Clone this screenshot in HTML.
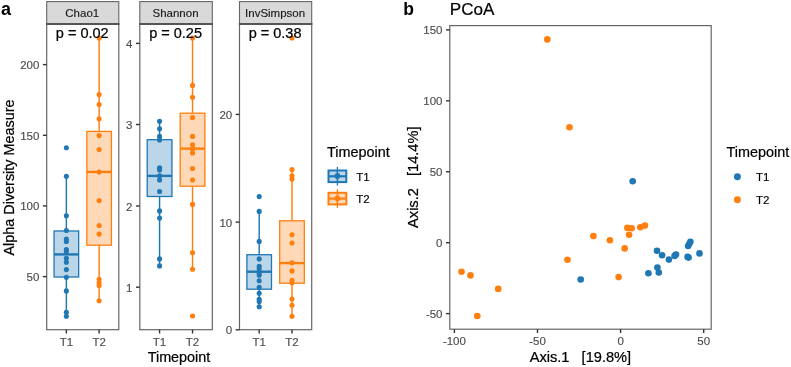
<!DOCTYPE html>
<html><head><meta charset="utf-8"><title>Alpha diversity and PCoA</title>
<style>
html,body{margin:0;padding:0;background:#fff;}
body{width:791px;height:367px;overflow:hidden;}
svg{display:block;font-family:"Liberation Sans", sans-serif;filter:blur(0.3px);}
</style></head>
<body>
<svg width="791" height="367" viewBox="0 0 791 367">
<rect width="791" height="367" fill="#fff"/>
<rect x="46.7" y="1.6" width="72.10" height="22.40" fill="#D9D9D9" stroke="#666666" stroke-width="1.1"/>
<text x="82.25" y="17.2" font-size="11.5" fill="#1A1A1A" stroke="#1A1A1A" stroke-width="0.15" text-anchor="middle">Chao1</text>
<rect x="46.7" y="24.0" width="72.10" height="305.70" fill="#FFFFFF" stroke="#666666" stroke-width="1.2"/>
<line x1="46.10" y1="24.00" x2="119.40" y2="24.00" stroke="#555" stroke-width="2"/>
<line x1="42.90" y1="64.6" x2="46.7" y2="64.6" stroke="#333" stroke-width="1.4"/>
<text x="39.40" y="69.10" font-size="11.5" fill="#4D4D4D" stroke="#4D4D4D" stroke-width="0.15" text-anchor="end">200</text>
<line x1="42.90" y1="135.3" x2="46.7" y2="135.3" stroke="#333" stroke-width="1.4"/>
<text x="39.40" y="139.80" font-size="11.5" fill="#4D4D4D" stroke="#4D4D4D" stroke-width="0.15" text-anchor="end">150</text>
<line x1="42.90" y1="205.9" x2="46.7" y2="205.9" stroke="#333" stroke-width="1.4"/>
<text x="39.40" y="210.40" font-size="11.5" fill="#4D4D4D" stroke="#4D4D4D" stroke-width="0.15" text-anchor="end">100</text>
<line x1="42.90" y1="276.6" x2="46.7" y2="276.6" stroke="#333" stroke-width="1.4"/>
<text x="39.40" y="281.10" font-size="11.5" fill="#4D4D4D" stroke="#4D4D4D" stroke-width="0.15" text-anchor="end">50</text>
<line x1="66.36" y1="329.7" x2="66.36" y2="333.5" stroke="#333" stroke-width="1.4"/>
<text x="66.36" y="345.6" font-size="11.5" fill="#4D4D4D" stroke="#4D4D4D" stroke-width="0.15" text-anchor="middle">T1</text>
<line x1="99.14" y1="329.7" x2="99.14" y2="333.5" stroke="#333" stroke-width="1.4"/>
<text x="99.14" y="345.6" font-size="11.5" fill="#4D4D4D" stroke="#4D4D4D" stroke-width="0.15" text-anchor="middle">T2</text>
<line x1="66.36" y1="176.3" x2="66.36" y2="231.0" stroke="#1F77B4" stroke-width="1.45"/>
<line x1="66.36" y1="277.0" x2="66.36" y2="316.3" stroke="#1F77B4" stroke-width="1.45"/>
<rect x="54.07" y="231.0" width="24.58" height="46.00" fill="#BCD6E9" stroke="#1F77B4" stroke-width="1.3"/>
<line x1="54.07" y1="254.4" x2="78.65" y2="254.4" stroke="#1F77B4" stroke-width="2.4"/>
<line x1="99.14" y1="38.0" x2="99.14" y2="131.4" stroke="#FF7F0E" stroke-width="1.45"/>
<line x1="99.14" y1="245.2" x2="99.14" y2="300.7" stroke="#FF7F0E" stroke-width="1.45"/>
<rect x="86.85" y="131.4" width="24.58" height="113.80" fill="#FFD9B7" stroke="#FF7F0E" stroke-width="1.3"/>
<line x1="86.85" y1="171.9" x2="111.43" y2="171.9" stroke="#FF7F0E" stroke-width="2.4"/>
<circle cx="66.36" cy="147.8" r="2.55" fill="#1F77B4"/>
<circle cx="66.36" cy="176.3" r="2.55" fill="#1F77B4"/>
<circle cx="66.36" cy="215.7" r="2.55" fill="#1F77B4"/>
<circle cx="66.36" cy="230.5" r="2.55" fill="#1F77B4"/>
<circle cx="66.36" cy="239" r="2.55" fill="#1F77B4"/>
<circle cx="66.36" cy="241.5" r="2.55" fill="#1F77B4"/>
<circle cx="66.36" cy="249.6" r="2.55" fill="#1F77B4"/>
<circle cx="66.36" cy="251.6" r="2.55" fill="#1F77B4"/>
<circle cx="66.36" cy="258.2" r="2.55" fill="#1F77B4"/>
<circle cx="66.36" cy="262.3" r="2.55" fill="#1F77B4"/>
<circle cx="66.36" cy="269.6" r="2.55" fill="#1F77B4"/>
<circle cx="66.36" cy="277.2" r="2.55" fill="#1F77B4"/>
<circle cx="66.36" cy="290.9" r="2.55" fill="#1F77B4"/>
<circle cx="66.36" cy="312.2" r="2.55" fill="#1F77B4"/>
<circle cx="66.36" cy="316.3" r="2.55" fill="#1F77B4"/>
<circle cx="99.14" cy="38.0" r="2.55" fill="#FF7F0E"/>
<circle cx="99.14" cy="94.6" r="2.55" fill="#FF7F0E"/>
<circle cx="99.14" cy="104.5" r="2.55" fill="#FF7F0E"/>
<circle cx="99.14" cy="118.8" r="2.55" fill="#FF7F0E"/>
<circle cx="99.14" cy="135.6" r="2.55" fill="#FF7F0E"/>
<circle cx="99.14" cy="149.6" r="2.55" fill="#FF7F0E"/>
<circle cx="99.14" cy="172.0" r="2.55" fill="#FF7F0E"/>
<circle cx="99.14" cy="200.6" r="2.55" fill="#FF7F0E"/>
<circle cx="99.14" cy="225.5" r="2.55" fill="#FF7F0E"/>
<circle cx="99.14" cy="234.1" r="2.55" fill="#FF7F0E"/>
<circle cx="99.14" cy="279.3" r="2.55" fill="#FF7F0E"/>
<circle cx="99.14" cy="282.7" r="2.55" fill="#FF7F0E"/>
<circle cx="99.14" cy="285.5" r="2.55" fill="#FF7F0E"/>
<circle cx="99.14" cy="300.7" r="2.55" fill="#FF7F0E"/>
<text x="82.25" y="37.6" font-size="14.5" fill="#000" stroke="#000" stroke-width="0.22" text-anchor="middle">p = 0.02</text>
<rect x="139.8" y="1.6" width="72.50" height="22.40" fill="#D9D9D9" stroke="#666666" stroke-width="1.1"/>
<text x="175.55" y="17.2" font-size="11.5" fill="#1A1A1A" stroke="#1A1A1A" stroke-width="0.15" text-anchor="middle">Shannon</text>
<rect x="139.8" y="24.0" width="72.50" height="305.70" fill="#FFFFFF" stroke="#666666" stroke-width="1.2"/>
<line x1="139.20" y1="24.00" x2="212.90" y2="24.00" stroke="#555" stroke-width="2"/>
<line x1="136.00" y1="43.4" x2="139.8" y2="43.4" stroke="#333" stroke-width="1.4"/>
<text x="132.50" y="47.90" font-size="11.5" fill="#4D4D4D" stroke="#4D4D4D" stroke-width="0.15" text-anchor="end">4</text>
<line x1="136.00" y1="124.5" x2="139.8" y2="124.5" stroke="#333" stroke-width="1.4"/>
<text x="132.50" y="129.00" font-size="11.5" fill="#4D4D4D" stroke="#4D4D4D" stroke-width="0.15" text-anchor="end">3</text>
<line x1="136.00" y1="206.0" x2="139.8" y2="206.0" stroke="#333" stroke-width="1.4"/>
<text x="132.50" y="210.50" font-size="11.5" fill="#4D4D4D" stroke="#4D4D4D" stroke-width="0.15" text-anchor="end">2</text>
<line x1="136.00" y1="287.2" x2="139.8" y2="287.2" stroke="#333" stroke-width="1.4"/>
<text x="132.50" y="291.70" font-size="11.5" fill="#4D4D4D" stroke="#4D4D4D" stroke-width="0.15" text-anchor="end">1</text>
<line x1="159.57" y1="329.7" x2="159.57" y2="333.5" stroke="#333" stroke-width="1.4"/>
<text x="159.57" y="345.6" font-size="11.5" fill="#4D4D4D" stroke="#4D4D4D" stroke-width="0.15" text-anchor="middle">T1</text>
<line x1="192.53" y1="329.7" x2="192.53" y2="333.5" stroke="#333" stroke-width="1.4"/>
<text x="192.53" y="345.6" font-size="11.5" fill="#4D4D4D" stroke="#4D4D4D" stroke-width="0.15" text-anchor="middle">T2</text>
<line x1="159.57" y1="121.2" x2="159.57" y2="139.7" stroke="#1F77B4" stroke-width="1.45"/>
<line x1="159.57" y1="196.5" x2="159.57" y2="265.9" stroke="#1F77B4" stroke-width="1.45"/>
<rect x="147.21" y="139.7" width="24.72" height="56.80" fill="#BCD6E9" stroke="#1F77B4" stroke-width="1.3"/>
<line x1="147.21" y1="175.9" x2="171.93" y2="175.9" stroke="#1F77B4" stroke-width="2.4"/>
<line x1="192.53" y1="38.0" x2="192.53" y2="113.2" stroke="#FF7F0E" stroke-width="1.45"/>
<line x1="192.53" y1="186.2" x2="192.53" y2="269.2" stroke="#FF7F0E" stroke-width="1.45"/>
<rect x="180.17" y="113.2" width="24.72" height="73.00" fill="#FFD9B7" stroke="#FF7F0E" stroke-width="1.3"/>
<line x1="180.17" y1="148.6" x2="204.89" y2="148.6" stroke="#FF7F0E" stroke-width="2.4"/>
<circle cx="159.57" cy="121.2" r="2.55" fill="#1F77B4"/>
<circle cx="159.57" cy="128.7" r="2.55" fill="#1F77B4"/>
<circle cx="159.57" cy="136.4" r="2.55" fill="#1F77B4"/>
<circle cx="159.57" cy="139.9" r="2.55" fill="#1F77B4"/>
<circle cx="159.57" cy="167.7" r="2.55" fill="#1F77B4"/>
<circle cx="159.57" cy="170.1" r="2.55" fill="#1F77B4"/>
<circle cx="159.57" cy="175.9" r="2.55" fill="#1F77B4"/>
<circle cx="159.57" cy="180.0" r="2.55" fill="#1F77B4"/>
<circle cx="159.57" cy="191.5" r="2.55" fill="#1F77B4"/>
<circle cx="159.57" cy="210.9" r="2.55" fill="#1F77B4"/>
<circle cx="159.57" cy="218.1" r="2.55" fill="#1F77B4"/>
<circle cx="159.57" cy="258.9" r="2.55" fill="#1F77B4"/>
<circle cx="159.57" cy="265.9" r="2.55" fill="#1F77B4"/>
<circle cx="192.53" cy="38.0" r="2.55" fill="#FF7F0E"/>
<circle cx="192.53" cy="85.4" r="2.55" fill="#FF7F0E"/>
<circle cx="192.53" cy="97.2" r="2.55" fill="#FF7F0E"/>
<circle cx="192.53" cy="117.6" r="2.55" fill="#FF7F0E"/>
<circle cx="192.53" cy="136.4" r="2.55" fill="#FF7F0E"/>
<circle cx="192.53" cy="144.8" r="2.55" fill="#FF7F0E"/>
<circle cx="192.53" cy="148.9" r="2.55" fill="#FF7F0E"/>
<circle cx="192.53" cy="153.0" r="2.55" fill="#FF7F0E"/>
<circle cx="192.53" cy="168.5" r="2.55" fill="#FF7F0E"/>
<circle cx="192.53" cy="180.0" r="2.55" fill="#FF7F0E"/>
<circle cx="192.53" cy="204.4" r="2.55" fill="#FF7F0E"/>
<circle cx="192.53" cy="252.8" r="2.55" fill="#FF7F0E"/>
<circle cx="192.53" cy="269.2" r="2.55" fill="#FF7F0E"/>
<circle cx="192.53" cy="316.0" r="2.55" fill="#FF7F0E"/>
<text x="175.55" y="37.6" font-size="14.5" fill="#000" stroke="#000" stroke-width="0.22" text-anchor="middle">p = 0.25</text>
<rect x="239.5" y="1.6" width="72.20" height="22.40" fill="#D9D9D9" stroke="#666666" stroke-width="1.1"/>
<text x="275.10" y="17.2" font-size="11.5" fill="#1A1A1A" stroke="#1A1A1A" stroke-width="0.15" text-anchor="middle">InvSimpson</text>
<rect x="239.5" y="24.0" width="72.20" height="305.70" fill="#FFFFFF" stroke="#666666" stroke-width="1.2"/>
<line x1="238.90" y1="24.00" x2="312.30" y2="24.00" stroke="#555" stroke-width="2"/>
<line x1="235.70" y1="114.4" x2="239.5" y2="114.4" stroke="#333" stroke-width="1.4"/>
<text x="232.20" y="118.90" font-size="11.5" fill="#4D4D4D" stroke="#4D4D4D" stroke-width="0.15" text-anchor="end">20</text>
<line x1="235.70" y1="222.1" x2="239.5" y2="222.1" stroke="#333" stroke-width="1.4"/>
<text x="232.20" y="226.60" font-size="11.5" fill="#4D4D4D" stroke="#4D4D4D" stroke-width="0.15" text-anchor="end">10</text>
<line x1="235.70" y1="329.8" x2="239.5" y2="329.8" stroke="#333" stroke-width="1.4"/>
<text x="232.20" y="334.30" font-size="11.5" fill="#4D4D4D" stroke="#4D4D4D" stroke-width="0.15" text-anchor="end">0</text>
<line x1="259.19" y1="329.7" x2="259.19" y2="333.5" stroke="#333" stroke-width="1.4"/>
<text x="259.19" y="345.6" font-size="11.5" fill="#4D4D4D" stroke="#4D4D4D" stroke-width="0.15" text-anchor="middle">T1</text>
<line x1="292.01" y1="329.7" x2="292.01" y2="333.5" stroke="#333" stroke-width="1.4"/>
<text x="292.01" y="345.6" font-size="11.5" fill="#4D4D4D" stroke="#4D4D4D" stroke-width="0.15" text-anchor="middle">T2</text>
<line x1="259.19" y1="211.4" x2="259.19" y2="254.7" stroke="#1F77B4" stroke-width="1.45"/>
<line x1="259.19" y1="289.2" x2="259.19" y2="306.9" stroke="#1F77B4" stroke-width="1.45"/>
<rect x="246.88" y="254.7" width="24.61" height="34.50" fill="#BCD6E9" stroke="#1F77B4" stroke-width="1.3"/>
<line x1="246.88" y1="271.7" x2="271.50" y2="271.7" stroke="#1F77B4" stroke-width="2.4"/>
<line x1="292.01" y1="169.6" x2="292.01" y2="220.8" stroke="#FF7F0E" stroke-width="1.45"/>
<line x1="292.01" y1="283.2" x2="292.01" y2="316.3" stroke="#FF7F0E" stroke-width="1.45"/>
<rect x="279.70" y="220.8" width="24.61" height="62.40" fill="#FFD9B7" stroke="#FF7F0E" stroke-width="1.3"/>
<line x1="279.70" y1="263.1" x2="304.32" y2="263.1" stroke="#FF7F0E" stroke-width="2.4"/>
<circle cx="259.19" cy="196.6" r="2.55" fill="#1F77B4"/>
<circle cx="259.19" cy="211.4" r="2.55" fill="#1F77B4"/>
<circle cx="259.19" cy="241.4" r="2.55" fill="#1F77B4"/>
<circle cx="259.19" cy="258.9" r="2.55" fill="#1F77B4"/>
<circle cx="259.19" cy="266.3" r="2.55" fill="#1F77B4"/>
<circle cx="259.19" cy="268.8" r="2.55" fill="#1F77B4"/>
<circle cx="259.19" cy="272.9" r="2.55" fill="#1F77B4"/>
<circle cx="259.19" cy="275.3" r="2.55" fill="#1F77B4"/>
<circle cx="259.19" cy="280.7" r="2.55" fill="#1F77B4"/>
<circle cx="259.19" cy="287.3" r="2.55" fill="#1F77B4"/>
<circle cx="259.19" cy="293.3" r="2.55" fill="#1F77B4"/>
<circle cx="259.19" cy="299.3" r="2.55" fill="#1F77B4"/>
<circle cx="259.19" cy="301.5" r="2.55" fill="#1F77B4"/>
<circle cx="259.19" cy="306.7" r="2.55" fill="#1F77B4"/>
<circle cx="292.01" cy="38.0" r="2.55" fill="#FF7F0E"/>
<circle cx="292.01" cy="169.6" r="2.55" fill="#FF7F0E"/>
<circle cx="292.01" cy="175.8" r="2.55" fill="#FF7F0E"/>
<circle cx="292.01" cy="179.1" r="2.55" fill="#FF7F0E"/>
<circle cx="292.01" cy="234.7" r="2.55" fill="#FF7F0E"/>
<circle cx="292.01" cy="243.0" r="2.55" fill="#FF7F0E"/>
<circle cx="292.01" cy="262.8" r="2.55" fill="#FF7F0E"/>
<circle cx="292.01" cy="270.9" r="2.55" fill="#FF7F0E"/>
<circle cx="292.01" cy="280.2" r="2.55" fill="#FF7F0E"/>
<circle cx="292.01" cy="282.7" r="2.55" fill="#FF7F0E"/>
<circle cx="292.01" cy="299.0" r="2.55" fill="#FF7F0E"/>
<circle cx="292.01" cy="305.2" r="2.55" fill="#FF7F0E"/>
<circle cx="292.01" cy="316.3" r="2.55" fill="#FF7F0E"/>
<text x="275.10" y="37.6" font-size="14.5" fill="#000" stroke="#000" stroke-width="0.22" text-anchor="middle">p = 0.38</text>
<text x="1" y="15.2" font-size="18" font-weight="bold" fill="#000">a</text>
<text transform="translate(14.3,177.5) rotate(-90)" font-size="14.4" fill="#000" stroke="#000" stroke-width="0.22" text-anchor="middle">Alpha Diversity Measure</text>
<text x="179" y="362.1" font-size="14.4" fill="#000" stroke="#000" stroke-width="0.22" text-anchor="middle">Timepoint</text>
<text x="327.1" y="156.8" font-size="14.4" fill="#000" stroke="#000" stroke-width="0.22">Timepoint</text>
<line x1="337.4" y1="167.00" x2="337.4" y2="185.60" stroke="#1F77B4" stroke-width="1.3"/>
<rect x="328.50" y="170.50" width="17.8" height="11.6" fill="#BCD6E9" stroke="#1F77B4" stroke-width="2"/>
<line x1="328.50" y1="176.30" x2="346.30" y2="176.30" stroke="#1F77B4" stroke-width="2.2"/>
<line x1="337.4" y1="170.50" x2="337.4" y2="182.10" stroke="#1F77B4" stroke-width="1.6"/>
<circle cx="337.4" cy="176.00" r="2.9" fill="#1F77B4"/>
<text x="356.2" y="180.50" font-size="11.5" fill="#000" stroke="#000" stroke-width="0.15">T1</text>
<line x1="337.4" y1="189.30" x2="337.4" y2="207.90" stroke="#FF7F0E" stroke-width="1.3"/>
<rect x="328.50" y="192.80" width="17.8" height="11.6" fill="#FFD9B7" stroke="#FF7F0E" stroke-width="2"/>
<line x1="328.50" y1="198.60" x2="346.30" y2="198.60" stroke="#FF7F0E" stroke-width="2.2"/>
<line x1="337.4" y1="192.80" x2="337.4" y2="204.40" stroke="#FF7F0E" stroke-width="1.6"/>
<circle cx="337.4" cy="198.30" r="2.9" fill="#FF7F0E"/>
<text x="356.2" y="202.80" font-size="11.5" fill="#000" stroke="#000" stroke-width="0.15">T2</text>
<text x="403.2" y="15.1" font-size="17.5" font-weight="bold" fill="#000">b</text>
<text x="449.8" y="14.5" font-size="17.1" fill="#000" stroke="#000" stroke-width="0.22">PCoA</text>
<rect x="449.8" y="25.6" width="261.40" height="303.60" fill="#FFF" stroke="#666666" stroke-width="1.2"/>
<line x1="446.00" y1="29.92" x2="449.8" y2="29.92" stroke="#333" stroke-width="1.4"/>
<text x="442.50" y="34.42" font-size="11.5" fill="#4D4D4D" stroke="#4D4D4D" stroke-width="0.15" text-anchor="end">150</text>
<line x1="446.00" y1="100.85" x2="449.8" y2="100.85" stroke="#333" stroke-width="1.4"/>
<text x="442.50" y="105.35" font-size="11.5" fill="#4D4D4D" stroke="#4D4D4D" stroke-width="0.15" text-anchor="end">100</text>
<line x1="446.00" y1="171.77" x2="449.8" y2="171.77" stroke="#333" stroke-width="1.4"/>
<text x="442.50" y="176.27" font-size="11.5" fill="#4D4D4D" stroke="#4D4D4D" stroke-width="0.15" text-anchor="end">50</text>
<line x1="446.00" y1="242.70" x2="449.8" y2="242.70" stroke="#333" stroke-width="1.4"/>
<text x="442.50" y="247.20" font-size="11.5" fill="#4D4D4D" stroke="#4D4D4D" stroke-width="0.15" text-anchor="end">0</text>
<line x1="446.00" y1="313.62" x2="449.8" y2="313.62" stroke="#333" stroke-width="1.4"/>
<text x="442.50" y="318.12" font-size="11.5" fill="#4D4D4D" stroke="#4D4D4D" stroke-width="0.15" text-anchor="end">-50</text>
<line x1="454.40" y1="329.2" x2="454.40" y2="333.0" stroke="#333" stroke-width="1.4"/>
<text x="454.40" y="345.4" font-size="11.5" fill="#4D4D4D" stroke="#4D4D4D" stroke-width="0.15" text-anchor="middle">-100</text>
<line x1="537.50" y1="329.2" x2="537.50" y2="333.0" stroke="#333" stroke-width="1.4"/>
<text x="537.50" y="345.4" font-size="11.5" fill="#4D4D4D" stroke="#4D4D4D" stroke-width="0.15" text-anchor="middle">-50</text>
<line x1="620.60" y1="329.2" x2="620.60" y2="333.0" stroke="#333" stroke-width="1.4"/>
<text x="620.60" y="345.4" font-size="11.5" fill="#4D4D4D" stroke="#4D4D4D" stroke-width="0.15" text-anchor="middle">0</text>
<line x1="703.70" y1="329.2" x2="703.70" y2="333.0" stroke="#333" stroke-width="1.4"/>
<text x="703.70" y="345.4" font-size="11.5" fill="#4D4D4D" stroke="#4D4D4D" stroke-width="0.15" text-anchor="middle">50</text>
<text x="580.4" y="362.4" font-size="14.6" fill="#000" stroke="#000" stroke-width="0.22" text-anchor="middle" xml:space="preserve">Axis.1   [19.8%]</text>
<text transform="translate(418.0,177.2) rotate(-90)" font-size="14.6" fill="#000" stroke="#000" stroke-width="0.22" text-anchor="middle" xml:space="preserve">Axis.2   [14.4%]</text>
<circle cx="547.3" cy="39.4" r="3.3" fill="#FF7F0E"/>
<circle cx="569.5" cy="127.3" r="3.3" fill="#FF7F0E"/>
<circle cx="461.5" cy="271.8" r="3.3" fill="#FF7F0E"/>
<circle cx="470.5" cy="275.4" r="3.3" fill="#FF7F0E"/>
<circle cx="498.2" cy="288.9" r="3.3" fill="#FF7F0E"/>
<circle cx="477.3" cy="316.0" r="3.3" fill="#FF7F0E"/>
<circle cx="567.5" cy="259.8" r="3.3" fill="#FF7F0E"/>
<circle cx="593.4" cy="236.1" r="3.3" fill="#FF7F0E"/>
<circle cx="609.9" cy="240.2" r="3.3" fill="#FF7F0E"/>
<circle cx="624.7" cy="248.4" r="3.3" fill="#FF7F0E"/>
<circle cx="618.6" cy="277.1" r="3.3" fill="#FF7F0E"/>
<circle cx="627.4" cy="227.9" r="3.3" fill="#FF7F0E"/>
<circle cx="631.6" cy="228.3" r="3.3" fill="#FF7F0E"/>
<circle cx="640.3" cy="227.2" r="3.3" fill="#FF7F0E"/>
<circle cx="644.9" cy="225.6" r="3.3" fill="#FF7F0E"/>
<circle cx="629.1" cy="234.8" r="3.3" fill="#FF7F0E"/>
<circle cx="632.7" cy="181.3" r="3.3" fill="#1F77B4"/>
<circle cx="580.7" cy="279.5" r="3.3" fill="#1F77B4"/>
<circle cx="657.0" cy="250.8" r="3.3" fill="#1F77B4"/>
<circle cx="662.1" cy="255.2" r="3.3" fill="#1F77B4"/>
<circle cx="668.9" cy="259.6" r="3.3" fill="#1F77B4"/>
<circle cx="676.0" cy="254.5" r="3.3" fill="#1F77B4"/>
<circle cx="674.6" cy="255.9" r="3.3" fill="#1F77B4"/>
<circle cx="687.6" cy="256.9" r="3.3" fill="#1F77B4"/>
<circle cx="688.6" cy="257.6" r="3.3" fill="#1F77B4"/>
<circle cx="688.1" cy="246.0" r="3.3" fill="#1F77B4"/>
<circle cx="689.2" cy="244.0" r="3.3" fill="#1F77B4"/>
<circle cx="690.4" cy="241.8" r="3.3" fill="#1F77B4"/>
<circle cx="699.5" cy="253.4" r="3.3" fill="#1F77B4"/>
<circle cx="657.4" cy="267.5" r="3.3" fill="#1F77B4"/>
<circle cx="658.8" cy="272.5" r="3.3" fill="#1F77B4"/>
<circle cx="648.4" cy="273.2" r="3.3" fill="#1F77B4"/>
<text x="726.6" y="157.4" font-size="14.4" fill="#000" stroke="#000" stroke-width="0.22">Timepoint</text>
<circle cx="737.4" cy="176.80" r="3.45" fill="#1F77B4"/>
<text x="756" y="181.40" font-size="11.5" fill="#000" stroke="#000" stroke-width="0.15">T1</text>
<circle cx="737.4" cy="199.70" r="3.45" fill="#FF7F0E"/>
<text x="756" y="204.30" font-size="11.5" fill="#000" stroke="#000" stroke-width="0.15">T2</text>
</svg>
</body></html>
